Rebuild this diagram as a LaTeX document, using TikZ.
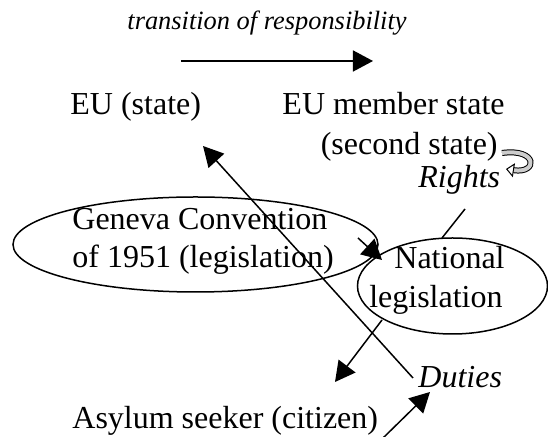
\documentclass[tikz,border=0pt]{standalone}
\usepackage{fontspec}
\setmainfont{Liberation Serif}
\usetikzlibrary{arrows.meta,shapes.geometric,positioning}

\begin{document}
\begin{tikzpicture}[x=0.5pt, y=-0.5pt]
	\tikzstyle{every node}=[font=\fontsize{16pt}{19.5pt}\selectfont, inner sep=0pt]
	\tikzstyle{slant}=[font=\fontsize{16pt}{19.5pt}\selectfont\itshape]
	\tikzstyle{oval}=[draw, ellipse, line width=0.75pt]
	\tikzstyle{link}=[line width=0.75pt]
	\tikzstyle{tip}=[line width=0.75pt, -{Triangle[length=10pt, width=10.5pt]}]
	\useasboundingbox (0,0) rectangle (548,437);

	% ellipses
	\node [oval, minimum width=182.5pt, minimum height=47.5pt] (geneva) at (195.5,244.5) {};
	\node [oval, minimum width=95pt, minimum height=48pt] (natl) at (452.5,286) {};

	% texts
	\node [anchor=base, font=\fontsize{13.2pt}{16pt}\selectfont\itshape] (trans) at (267,30) {transition of responsibility};
	\node [anchor=base west] (eu) at (70,115) {EU (state)};
	\node [anchor=base east] (member) at (505,115) {EU member state};
	\node [anchor=base east] (second) at (498,155) {(second state)};
	\node [anchor=base west, slant] (rights) at (418,188) {Rights};
	\node [anchor=base west] (gen1) at (72,230) {Geneva Convention};
	\node [anchor=base west] (gen2) at (72,268) {of 1951 (legislation)};
	\node [anchor=base east] (nat1) at (505,269) {National};
	\node [anchor=base east] (nat2) at (503,308) {legislation};
	\node [anchor=base west, slant] (duties) at (418,388) {Duties};
	\node [anchor=base west] (asylum) at (72,429) {Asylum seeker (citizen)};

	% connector ends
	\coordinate (t0) at (181,61);
	\coordinate (t1) at (373,61);
	\coordinate (l0) at (413,378);
	\coordinate (l1) at (203,146);
	\coordinate (g0) at (358,238);
	\coordinate (g1) at (382,260);
	\coordinate (n0) at (382,320);
	\coordinate (n1) at (335,382);
	\coordinate (r0) at (465,209);
	\coordinate (r1) at (442,238);
	\coordinate (b0) at (381,440);
	\coordinate (b1) at (430,392);
	\coordinate (u0) at (502,153);
	\coordinate (u1) at (506,169);

	\draw [tip] (t0) -- (t1);
	\draw [tip] (l0) -- (l1);
	\draw [tip] (g0) -- (g1);
	\draw [tip] (n0) -- (n1);
	\draw [link] (r0) -- (r1);
	\draw [tip] (b0) -- (b1);
	\draw [line width=0.5pt, double=gray!40, double distance=2pt, -{Triangle[open, length=4pt, width=7pt]}] (u0) .. controls (538,148) and (538,174) .. (u1);
\end{tikzpicture}
\end{document}
